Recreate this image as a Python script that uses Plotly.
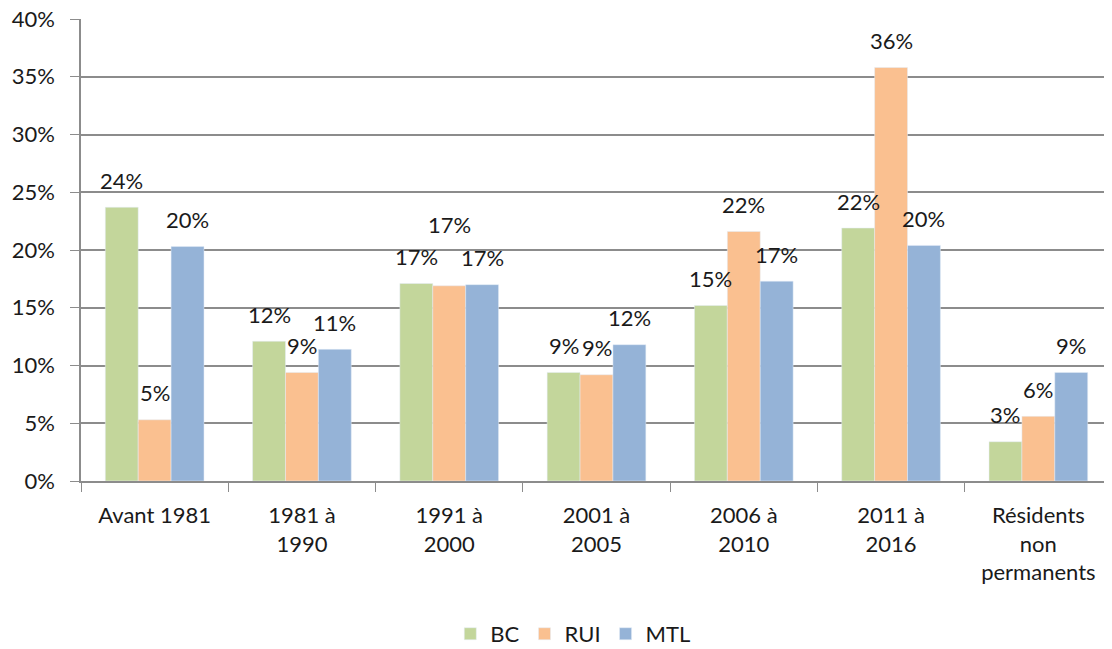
import plotly.graph_objects as go

categories = ["Avant 1981", "1981 à<br>1990", "1991 à<br>2000", "2001 à<br>2005",
              "2006 à<br>2010", "2011 à<br>2016", "Résidents<br>non<br>permanents"]
bc = [0.237, 0.121, 0.171, 0.094, 0.152, 0.219, 0.034]
rui = [0.053, 0.094, 0.169, 0.092, 0.216, 0.358, 0.056]
mtl = [0.203, 0.114, 0.170, 0.118, 0.173, 0.204, 0.094]

series = [("BC", bc, "#C3D69B"), ("RUI", rui, "#FAC090"), ("MTL", mtl, "#95B3D7")]

# pixel geometry (layout only); the page body adds an 8px offset
W, H = 1104, 641
ML, MR, MT, MB = 73, 0, 11, 168
BARGAP = 0.33
bar_w = (W - ML - MR) / len(categories) * (1 - BARGAP) / 3
# manual nudge of one label, as in the original (series index, category index) -> extra px
nudge = {(1, 2): 34}

fig = go.Figure()
annotations = []
for i, (name, vals, col) in enumerate(series):
    fig.add_trace(go.Bar(x=categories, y=vals, name=name, marker_color=col))
    for j, v in enumerate(vals):
        annotations.append(dict(
            x=categories[j], y=v, xref="x", yref="y", text=f"{v:.0%}",
            showarrow=False, xshift=(i - 1) * bar_w, yshift=27 + nudge.get((i, j), 0),
            yanchor="middle", font=dict(size=22, color="#1a1a1a"),
        ))

fig.update_layout(
    width=W, height=H,
    paper_bgcolor="white", plot_bgcolor="white",
    font=dict(family="Lato, Open Sans, sans-serif", size=22, color="#1a1a1a"),
    margin=dict(l=ML, r=MR, t=MT, b=MB, autoexpand=False),
    barmode="group", bargap=BARGAP, bargroupgap=0,
    legend=dict(orientation="h", x=0.477, xanchor="center", y=-0.331, yanchor="middle",
                font=dict(size=22), itemwidth=30),
    showlegend=True,
    annotations=annotations,
)
fig.update_yaxes(range=[0, 0.4], dtick=0.05, tickformat=".0%",
                 showgrid=True, gridcolor="#8c8c8c", gridwidth=1.5,
                 showline=True, linecolor="#8c8c8c", linewidth=1.5,
                 ticks="outside", ticklen=9, tickcolor="#8c8c8c", zeroline=False,
                 ticklabelstandoff=11, automargin=False, ticklabeloverflow="allow")
fig.update_xaxes(showline=True, linecolor="#8c8c8c", linewidth=1.5,
                 ticks="outside", tickson="boundaries", ticklen=9, tickcolor="#8c8c8c",
                 ticklabelstandoff=14, automargin=False, ticklabeloverflow="allow")

fig.write_html("out.html")
